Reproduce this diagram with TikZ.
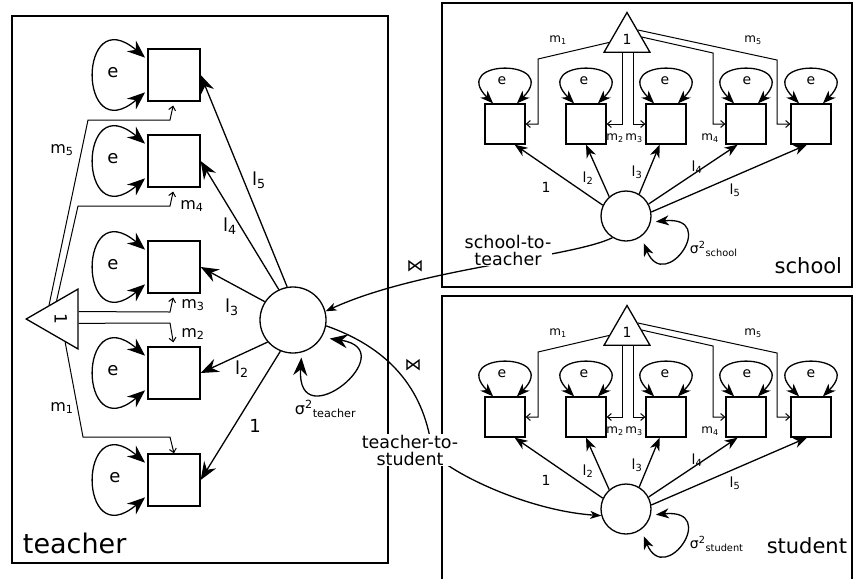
\documentclass[tikz,border=0pt]{standalone}
\usepackage{fontspec}
\setmainfont{DejaVu Sans}
\usepackage{graphicx}
\usetikzlibrary{arrows.meta,shapes.geometric,calc}

\begin{document}
\begin{tikzpicture}[x=1pt, y=-1pt, line width=1.3pt,
    tbox/.style={draw, minimum size=52pt, inner sep=0pt},
    sbox/.style={draw, minimum size=40pt, inner sep=0pt},
    tlat/.style={draw, circle, minimum size=66pt, inner sep=0pt},
    slat/.style={draw, circle, minimum size=50pt, inner sep=0pt},
    meantri/.style={draw, regular polygon, regular polygon sides=3, inner sep=0pt},
    bighead/.style={-{Stealth[length=18pt, width=14pt, inset=6pt]}},
    bigloop/.style={{Stealth[length=18pt, width=14pt, inset=6pt]}-{Stealth[length=18pt, width=14pt, inset=6pt]}},
    smallhead/.style={-{Stealth[length=13pt, width=10pt, inset=4pt]}},
    smallloop/.style={{Stealth[length=13pt, width=10pt, inset=4pt]}-{Stealth[length=13pt, width=10pt, inset=4pt]}},
    linkhead/.style={-{Stealth[length=11pt, width=8pt, inset=3pt]}},
    mline/.style={line width=1pt, -{Straight Barb[length=4pt, width=7pt]}},
    biglab/.style={font=\fontsize{18}{18}\selectfont},
    mlab/.style={font=\fontsize{16}{16}\selectfont},
    slab/.style={font=\fontsize{14}{14}\selectfont},
    smlab/.style={font=\fontsize{12}{12}\selectfont},
    link/.style={fill=white, inner sep=1pt, align=center, font=\fontsize{17.5}{17}\selectfont}
  ]
      \useasboundingbox (0, 0) rectangle (853, 579);

      \draw(12, 16) rectangle (388, 563);
      \draw(442, 3) rectangle (852, 287);
      \draw(442, 579) -- (442, 296) -- (852, 296) -- (852, 579);

      \node[anchor=base west, font=\fontsize{27}{27}\selectfont] (tname) at (19, 553){teacher};
      \node[anchor=base east, font=\fontsize{21}{21}\selectfont] (sname) at (846, 273){school};
      \node[anchor=base east, font=\fontsize{21}{21}\selectfont] (uname) at (851, 553){student};

      \node[tbox] (t1) at (174, 75){};
      \node[tbox] (t2) at (174, 161){};
      \node[tbox] (t3) at (174, 267){};
      \node[tbox] (t4) at (174, 373){};
      \node[tbox] (t5) at (174, 480){};
      \node[tlat] (tc) at (293, 320){};
      \node[meantri, minimum size=69pt, shape border rotate=90] (tm) at (60.7, 319){\rotatebox{-90}{\fontsize{17}{17}\selectfont 1}};

      \draw[bigloop, shorten <=3pt, shorten >=3pt] (t1.150) .. controls +(-70, -60) and +(-70, 60) .. (t1.210);
      \draw[bigloop, shorten <=3pt, shorten >=3pt] (t2.150) .. controls +(-70, -60) and +(-70, 60) .. (t2.210);
      \draw[bigloop, shorten <=3pt, shorten >=3pt] (t3.150) .. controls +(-70, -60) and +(-70, 60) .. (t3.210);
      \draw[bigloop, shorten <=3pt, shorten >=3pt] (t4.150) .. controls +(-70, -60) and +(-70, 60) .. (t4.210);
      \draw[bigloop, shorten <=3pt, shorten >=3pt] (t5.150) .. controls +(-70, -60) and +(-70, 60) .. (t5.210);
      \node[biglab] (te1) at (113, 73){e};
      \node[biglab] (te2) at (113, 159){e};
      \node[biglab] (te3) at (113, 265){e};
      \node[biglab] (te4) at (113, 371){e};
      \node[biglab] (te5) at (115, 478){e};

      \draw[bighead] (tc.100) to (t1.east);
      \draw[bighead] (tc.115) to (t2.east);
      \draw[bighead] (tc.147) to (t3.east);
      \draw[bighead] (tc.221) to (t4.east);
      \draw[bighead] (tc.248) to (t5.east);
      \node[biglab] (tl5) at (259, 180){l\textsubscript{5}};
      \node[biglab] (tl4) at (230, 226){l\textsubscript{4}};
      \node[biglab] (tl3) at (232, 307){l\textsubscript{3}};
      \node[biglab] (tl2) at (242, 369){l\textsubscript{2}};
      \node[biglab] (tl1) at (255, 426){1};

      \draw[mline, shorten >=4pt] ($(tm.corner 1)!0.45!(tm.corner 3)$) -- (88, 120) -- (170, 120) -- (t1.south);
      \draw[mline, shorten >=4pt] ($(tm.corner 1)!0.59!(tm.corner 3)$) -- (78, 206) -- (170, 206) -- (t2.south);
      \draw[mline, shorten >=4pt] ($(tm.corner 3)!0.38!(tm.corner 2)$) -- (170, 312) -- (t3.south);
      \draw[mline, shorten >=4pt] ($(tm.corner 3)!0.57!(tm.corner 2)$) -- (170, 323) -- (t4.north);
      \draw[mline] ($(tm.corner 1)!0.75!(tm.corner 2)$) -- (83, 437) -- (170, 437) -- (t5.north);
      \node[mlab] (tm5) at (62, 150){m\textsubscript{5}};
      \node[mlab] (tm4) at (192, 206){m\textsubscript{4}};
      \node[mlab] (tm3) at (193, 305){m\textsubscript{3}};
      \node[mlab] (tm2) at (193, 334){m\textsubscript{2}};
      \node[mlab] (tm1) at (62, 408){m\textsubscript{1}};

      \draw[bigloop, shorten <=5pt, shorten >=8pt] (tc.-75) .. controls (296, 440) and (405, 350) .. (tc.-31);
      \node[anchor=west, font=\fontsize{16}{16}\selectfont] (tvar) at (291, 409){σ\textsuperscript{2}\textsubscript{teacher}};

      \node[sbox] (s1) at (505, 124){};
      \node[sbox] (s2) at (586, 124){};
      \node[sbox] (s3) at (666, 124){};
      \node[sbox] (s4) at (746, 124){};
      \node[sbox] (s5) at (811, 124){};
      \node[slat] (sc) at (626, 216){};
      \node[meantri, minimum size=53pt] (sm) at (627, 39){\fontsize{14}{14}\selectfont 1};

      \draw[smallloop] (s1.120) .. controls +(-45, -45) and +(45, -45) .. (s1.60);
      \draw[smallloop] (s2.120) .. controls +(-45, -45) and +(45, -45) .. (s2.60);
      \draw[smallloop] (s3.120) .. controls +(-45, -45) and +(45, -45) .. (s3.60);
      \draw[smallloop] (s4.120) .. controls +(-45, -45) and +(45, -45) .. (s4.60);
      \draw[smallloop] (s5.120) .. controls +(-45, -45) and +(45, -45) .. (s5.60);
      \node[slab] (se1) at (502, 81){e};
      \node[slab] (se2) at (584, 81){e};
      \node[slab] (se3) at (665, 81){e};
      \node[slab] (se4) at (747, 81){e};
      \node[slab] (se5) at (811, 81){e};

      \draw[mline] ($(sm.corner 1)!0.75!(sm.corner 2)$) -- (538, 59) |- (s1.east);
      \draw[mline] ($(sm.corner 2)!0.41!(sm.corner 3)$) |- (s2.east);
      \draw[mline] ($(sm.corner 2)!0.64!(sm.corner 3)$) |- (s3.west);
      \draw[mline] ($(sm.corner 1)!0.62!(sm.corner 3)$) -- (713, 53) |- (s4.west);
      \draw[mline] ($(sm.corner 1)!0.45!(sm.corner 3)$) -- (777, 60) |- (s5.west);
      \node[smlab] (sm1) at (558, 40){m\textsubscript{1}};
      \node[smlab] (sm5) at (753, 40){m\textsubscript{5}};
      \node[smlab] (sm2) at (615, 138){m\textsubscript{2}};
      \node[smlab] (sm3) at (634, 138){m\textsubscript{3}};
      \node[smlab] (sm4) at (710, 138){m\textsubscript{4}};

      \draw[smallhead] (sc.155) to (s1.-65);
      \draw[smallhead] (sc.131) to (s2.south);
      \draw[smallhead] (sc.59) to (s3.-107);
      \draw[smallhead] (sc.28) to (s4.-112);
      \draw[smallhead] (sc.9) to (s5.-101);
      \node[slab] (sl1) at (546, 187){1};
      \node[slab] (sl2) at (588, 178){l\textsubscript{2}};
      \node[slab] (sl3) at (637, 172){l\textsubscript{3}};
      \node[slab] (sl4) at (697, 167){l\textsubscript{4}};
      \node[slab] (sl5) at (735, 190){l\textsubscript{5}};

      \draw[smallloop, shorten <=7pt, shorten >=5pt] (sc.-54) .. controls (665, 295) and (720, 215) .. (sc.-14);
      \node[anchor=west, font=\fontsize{14}{14}\selectfont] (svar) at (686, 249){σ\textsuperscript{2}\textsubscript{school}};

      \node[sbox] (u1) at (505, 417){};
      \node[sbox] (u2) at (586, 417){};
      \node[sbox] (u3) at (666, 417){};
      \node[sbox] (u4) at (746, 417){};
      \node[sbox] (u5) at (811, 417){};
      \node[slat] (uc) at (626, 509){};
      \node[meantri, minimum size=53pt] (um) at (627, 332){\fontsize{14}{14}\selectfont 1};

      \draw[smallloop] (u1.120) .. controls +(-45, -45) and +(45, -45) .. (u1.60);
      \draw[smallloop] (u2.120) .. controls +(-45, -45) and +(45, -45) .. (u2.60);
      \draw[smallloop] (u3.120) .. controls +(-45, -45) and +(45, -45) .. (u3.60);
      \draw[smallloop] (u4.120) .. controls +(-45, -45) and +(45, -45) .. (u4.60);
      \draw[smallloop] (u5.120) .. controls +(-45, -45) and +(45, -45) .. (u5.60);
      \node[slab] (ue1) at (502, 374){e};
      \node[slab] (ue2) at (584, 374){e};
      \node[slab] (ue3) at (665, 374){e};
      \node[slab] (ue4) at (747, 374){e};
      \node[slab] (ue5) at (811, 374){e};

      \draw[mline] ($(um.corner 1)!0.75!(um.corner 2)$) -- (538, 352) |- (u1.east);
      \draw[mline] ($(um.corner 2)!0.41!(um.corner 3)$) |- (u2.east);
      \draw[mline] ($(um.corner 2)!0.64!(um.corner 3)$) |- (u3.west);
      \draw[mline] ($(um.corner 1)!0.62!(um.corner 3)$) -- (713, 346) |- (u4.west);
      \draw[mline] ($(um.corner 1)!0.45!(um.corner 3)$) -- (777, 353) |- (u5.west);
      \node[smlab] (um1) at (558, 333){m\textsubscript{1}};
      \node[smlab] (um5) at (753, 333){m\textsubscript{5}};
      \node[smlab] (um2) at (615, 431){m\textsubscript{2}};
      \node[smlab] (um3) at (634, 431){m\textsubscript{3}};
      \node[smlab] (um4) at (710, 431){m\textsubscript{4}};

      \draw[smallhead] (uc.155) to (u1.-65);
      \draw[smallhead] (uc.131) to (u2.south);
      \draw[smallhead] (uc.59) to (u3.-107);
      \draw[smallhead] (uc.28) to (u4.-112);
      \draw[smallhead] (uc.9) to (u5.-101);
      \node[slab] (ul1) at (546, 480){1};
      \node[slab] (ul2) at (588, 471){l\textsubscript{2}};
      \node[slab] (ul3) at (637, 465){l\textsubscript{3}};
      \node[slab] (ul4) at (697, 460){l\textsubscript{4}};
      \node[slab] (ul5) at (735, 483){l\textsubscript{5}};

      \draw[smallloop, shorten <=7pt, shorten >=5pt] (uc.-54) .. controls (665, 588) and (720, 508) .. (uc.-14);
      \node[anchor=west, font=\fontsize{14}{14}\selectfont] (uvar) at (686, 544){σ\textsuperscript{2}\textsubscript{student}};

      \draw[linkhead] (sc.-122) .. controls (570, 258) and (420, 268) .. (tc.15);
      \draw[linkhead] (tc.-10) .. controls (395, 350) and (425, 395) .. (432, 450) .. controls (436, 465) and (520, 510) .. (uc.195);
      \node[link] (stt) at (508, 250){school-to-\\teacher};
      \node[link] (tts) at (410, 450){teacher-to-\\student};
      \node[font=\fontsize{17}{17}\selectfont] (join1) at (415, 266){⋈};
      \node[font=\fontsize{17}{17}\selectfont] (join2) at (413, 365){⋈};
    \end{tikzpicture}
\end{document}
